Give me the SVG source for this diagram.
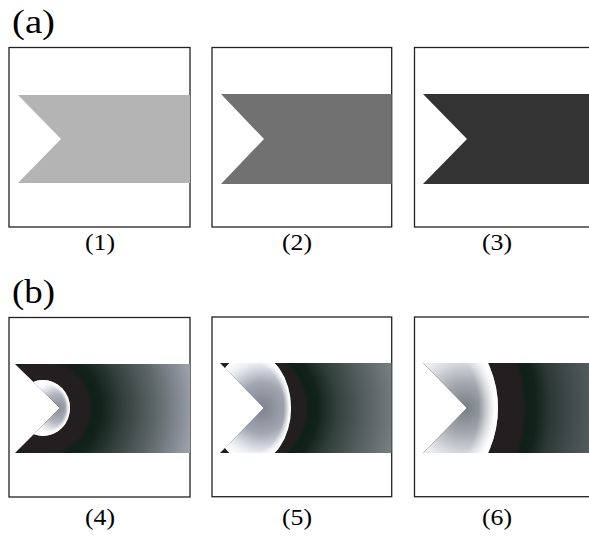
<svg xmlns="http://www.w3.org/2000/svg" width="589" height="538" viewBox="0 0 589 538">
<style>
.frame{fill:none;stroke:#222;stroke-width:1.3}
.lbl{font-family:"Liberation Serif","Times New Roman",serif;font-size:24px;fill:#000;text-anchor:middle}
.ttl{font-family:"Liberation Serif","Times New Roman",serif;font-size:33px;fill:#000}
</style>
<defs>
<clipPath id="c4"><polygon points="15,364 190,364 190,453 15,453 60,408"/></clipPath>
<clipPath id="c5"><polygon points="220,363 391.7,363 391.7,453 220,453 264,408"/></clipPath>
<clipPath id="c6"><polygon points="423,363 589,363 589,453 423,453 467,408"/></clipPath>
<radialGradient id="o4" gradientUnits="userSpaceOnUse" cx="43" cy="408" r="150">
<stop offset="0" stop-color="#231f20"/><stop offset="0.3" stop-color="#231f20"/>
<stop offset="0.34" stop-color="#0e2018"/><stop offset="0.39" stop-color="#13231c"/>
<stop offset="0.55" stop-color="#36423f"/><stop offset="0.75" stop-color="#5e6768"/>
<stop offset="1" stop-color="#9a9fab"/>
</radialGradient>
<radialGradient id="o5" gradientUnits="userSpaceOnUse" cx="250" cy="408" r="145">
<stop offset="0" stop-color="#231f20"/><stop offset="0.38" stop-color="#231f20"/>
<stop offset="0.41" stop-color="#0e2018"/><stop offset="0.47" stop-color="#13231c"/>
<stop offset="0.6" stop-color="#33403c"/><stop offset="0.8" stop-color="#566060"/>
<stop offset="1" stop-color="#767d80"/>
</radialGradient>
<radialGradient id="o6" gradientUnits="userSpaceOnUse" cx="392" cy="408" r="200">
<stop offset="0" stop-color="#231f20"/><stop offset="0.65" stop-color="#231f20"/>
<stop offset="0.68" stop-color="#0e2018"/><stop offset="0.72" stop-color="#13231c"/>
<stop offset="0.8" stop-color="#2e3a37"/><stop offset="0.9" stop-color="#414b4b"/>
<stop offset="1" stop-color="#525b5c"/>
</radialGradient>
<radialGradient id="i4" gradientUnits="userSpaceOnUse" cx="58" cy="408" r="28">
<stop offset="0" stop-color="#878b96"/><stop offset="0.5" stop-color="#b2b5be"/>
<stop offset="0.85" stop-color="#eceef1"/><stop offset="1" stop-color="#fff"/>
</radialGradient>
<radialGradient id="i5" gradientUnits="userSpaceOnUse" cx="262" cy="408" r="46">
<stop offset="0" stop-color="#7e828d"/><stop offset="0.55" stop-color="#a2a6b1"/>
<stop offset="0.85" stop-color="#d6d9df"/><stop offset="1" stop-color="#eef0f3"/>
</radialGradient>
<radialGradient id="i6" gradientUnits="userSpaceOnUse" cx="465" cy="408" r="55">
<stop offset="0" stop-color="#767d83"/><stop offset="0.45" stop-color="#a2a7ae"/>
<stop offset="0.85" stop-color="#d8dbe0"/><stop offset="1" stop-color="#eceef1"/>
</radialGradient>
<radialGradient id="rim" cx="0.5" cy="0.5" r="0.5">
<stop offset="0.82" stop-color="#fff" stop-opacity="0"/><stop offset="0.97" stop-color="#fff" stop-opacity="1"/><stop offset="1" stop-color="#fff" stop-opacity="1"/>
</radialGradient>
</defs>

<text class="ttl" x="12" y="33" textLength="43" lengthAdjust="spacingAndGlyphs">(a)</text>
<text class="ttl" x="12" y="303" textLength="43" lengthAdjust="spacingAndGlyphs">(b)</text>

<g id="panel1">
<rect class="frame" x="9" y="47.5" width="181" height="179.5"/>
<polygon points="18,95 190,95 190,183 18,183 61,139" fill="#b4b4b4"/>
<text class="lbl" x="100" y="250" textLength="30" lengthAdjust="spacingAndGlyphs">(1)</text>
</g>
<g id="panel2">
<rect class="frame" x="212" y="47.5" width="179.7" height="179.5"/>
<polygon points="221,94 391.7,94 391.7,184 221,184 264,139" fill="#717171"/>
<text class="lbl" x="297" y="250" textLength="30" lengthAdjust="spacingAndGlyphs">(2)</text>
</g>
<g id="panel3">
<rect class="frame" x="414.5" y="47.5" width="190" height="179.5"/>
<polygon points="423,94 589,94 589,184 423,184 467,139" fill="#333333"/>
<text class="lbl" x="497" y="250" textLength="30" lengthAdjust="spacingAndGlyphs">(3)</text>
</g>

<g id="panel4">
<rect class="frame" x="9" y="317.5" width="181" height="179.5"/>
<g clip-path="url(#c4)">
<rect x="10" y="364" width="180" height="89" fill="url(#o4)"/>
<ellipse cx="43" cy="408" rx="27" ry="28" fill="url(#i4)"/>
<ellipse cx="43" cy="408" rx="27" ry="28" fill="url(#rim)"/>
</g>
<text class="lbl" x="100" y="524.5" textLength="30" lengthAdjust="spacingAndGlyphs">(4)</text>
</g>
<g id="panel5">
<rect class="frame" x="212" y="317" width="179.7" height="179.7"/>
<g clip-path="url(#c5)">
<rect x="215" y="363" width="176.7" height="90" fill="url(#o5)"/>
<ellipse cx="252" cy="408" rx="39" ry="55" fill="url(#i5)"/>
<ellipse cx="252" cy="408" rx="39" ry="55" fill="url(#rim)"/>
</g>
<text class="lbl" x="297" y="524.5" textLength="30" lengthAdjust="spacingAndGlyphs">(5)</text>
</g>
<g id="panel6">
<rect class="frame" x="414.5" y="317" width="190" height="179.7"/>
<g clip-path="url(#c6)">
<rect x="418" y="363" width="171" height="90" fill="url(#o6)"/>
<circle cx="392" cy="408" r="106" fill="url(#i6)"/>
<circle cx="392" cy="408" r="106" fill="url(#rim)"/>
</g>
<text class="lbl" x="497" y="524.5" textLength="30" lengthAdjust="spacingAndGlyphs">(6)</text>
</g>
</svg>
